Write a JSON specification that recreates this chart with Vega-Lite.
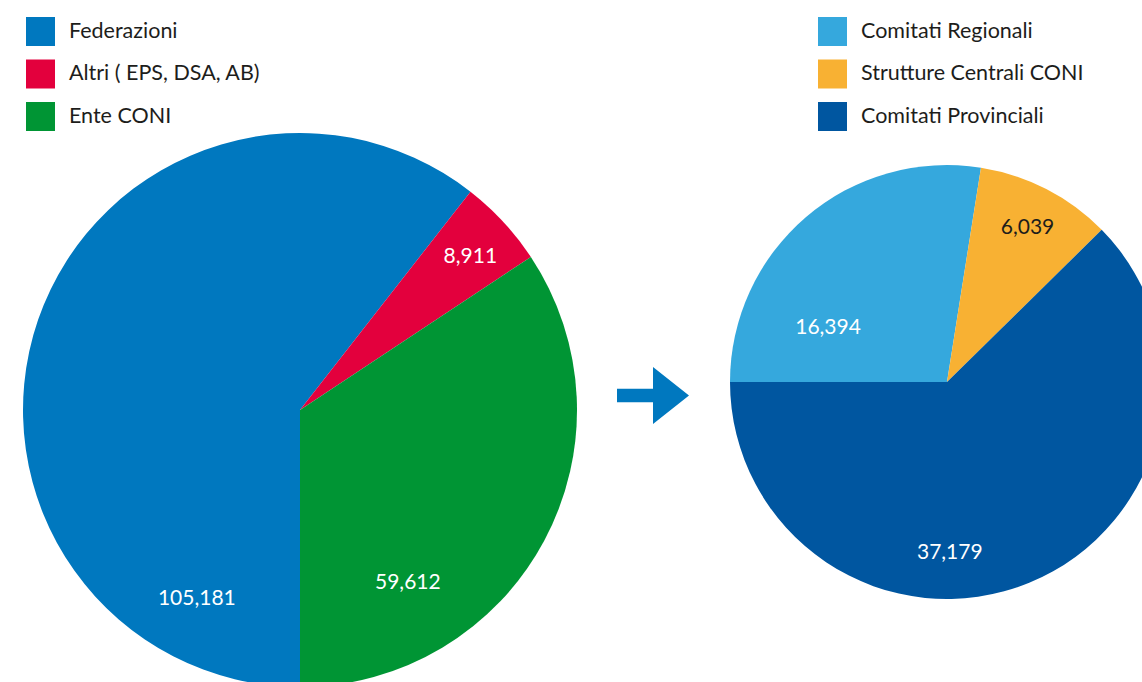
{
  "$schema": "https://vega.github.io/schema/vega-lite/v6.json",
  "padding": 0,
  "spacing": 0,
  "bounds": "flush",
  "config": {
    "view": {"stroke": null},
    "font": "Lato",
    "text": {"dy": 2},
    "legend": {
      "symbolType": "square",
      "symbolSize": 841,
      "symbolStrokeWidth": 0,
      "symbolOpacity": 1,
      "labelFont": "Lato",
      "labelFontSize": 21.5,
      "labelColor": "#1d1d1b",
      "labelOffset": 14,
      "labelLimit": 400,
      "rowPadding": 13.5,
      "padding": 0
    }
  },
  "resolve": {
    "scale": {"color": "independent", "theta": "independent"},
    "legend": {"color": "independent"}
  },
  "datasets": {
    "left": [
      {"cat": "Federazioni", "value": 105181, "n": 1},
      {"cat": "Altri ( EPS, DSA, AB)", "value": 8911, "n": 2},
      {"cat": "Ente CONI", "value": 59612, "n": 3}
    ],
    "right": [
      {"cat": "Comitati Regionali", "value": 16394, "n": 1},
      {"cat": "Strutture Centrali CONI", "value": 6039, "n": 2},
      {"cat": "Comitati Provinciali", "value": 37179, "n": 3}
    ],
    "arrow": [{"item": "arrow"}]
  },
  "hconcat": [
    {
      "width": 600,
      "height": 682,
      "data": {"name": "left"},
      "encoding": {
        "theta": {"field": "value", "type": "quantitative", "stack": true, "scale": {"range": [3.141592653589793, 9.42477796076938]}},
        "order": {"field": "n", "type": "quantitative"}
      },
      "layer": [
        {
          "mark": {"type": "arc", "outerRadius": 277, "yOffset": 69, "clip": true},
          "encoding": {
            "color": {
              "field": "cat", "type": "nominal",
              "scale": {"domain": ["Federazioni", "Altri ( EPS, DSA, AB)", "Ente CONI"], "range": ["#0078BF", "#E3003D", "#009534"]},
              "legend": {"title": null, "orient": "none", "legendX": 26, "legendY": 17}
            }
          }
        },
        {
          "mark": {"type": "text", "radius": 213.5, "thetaOffset": -1.398, "yOffset": 69, "dy": 2, "fontSize": 21, "font": "Lato", "color": "white"},
          "encoding": {
            "detail": {"field": "cat", "type": "nominal"},
            "text": {"condition": {"test": "datum.n === 1", "field": "value", "type": "quantitative", "format": ","}, "value": ""}
          }
        },
        {
          "mark": {"type": "text", "radius": 230, "thetaOffset": 0.01, "yOffset": 69, "dy": 2, "fontSize": 21, "font": "Lato", "color": "white"},
          "encoding": {
            "detail": {"field": "cat", "type": "nominal"},
            "text": {"condition": {"test": "datum.n === 2", "field": "value", "type": "quantitative", "format": ","}, "value": ""}
          }
        },
        {
          "mark": {"type": "text", "radius": 202, "thetaOffset": 0.515, "yOffset": 69, "dy": 2, "fontSize": 21, "font": "Lato", "color": "white"},
          "encoding": {
            "detail": {"field": "cat", "type": "nominal"},
            "text": {"condition": {"test": "datum.n === 3", "field": "value", "type": "quantitative", "format": ","}, "value": ""}
          }
        }
      ]
    },
    {
      "width": 106,
      "height": 682,
      "data": {"name": "arrow"},
      "mark": {
        "type": "point",
        "shape": "M-1,-0.19L0,-0.19L0,-0.79L1,0L0,0.79L0,0.19L-1,0.19Z",
        "size": 5184,
        "filled": true,
        "color": "#0078BF",
        "opacity": 1,
        "strokeWidth": 0,
        "yOffset": 54.5
      },
      "encoding": {}
    },
    {
      "width": 436,
      "height": 682,
      "data": {"name": "right"},
      "encoding": {
        "theta": {"field": "value", "type": "quantitative", "stack": true, "scale": {"range": [4.71238898038469, 10.995574287564276]}},
        "order": {"field": "n", "type": "quantitative"}
      },
      "layer": [
        {
          "mark": {"type": "arc", "outerRadius": 217, "xOffset": 23, "yOffset": 41, "clip": true},
          "encoding": {
            "color": {
              "field": "cat", "type": "nominal",
              "scale": {"domain": ["Comitati Regionali", "Strutture Centrali CONI", "Comitati Provinciali"], "range": ["#35A8DD", "#F8B133", "#0056A0"]},
              "legend": {"title": null, "orient": "none", "legendX": 112, "legendY": 17}
            }
          }
        },
        {
          "mark": {"type": "text", "radius": 131.5, "thetaOffset": -0.424, "xOffset": 23, "yOffset": 41, "dy": 2, "fontSize": 21, "font": "Lato", "color": "white"},
          "encoding": {
            "detail": {"field": "cat", "type": "nominal"},
            "text": {"condition": {"test": "datum.n === 1", "field": "value", "type": "quantitative", "format": ","}, "value": ""}
          }
        },
        {
          "mark": {"type": "text", "radius": 176, "thetaOffset": 0, "xOffset": 23, "yOffset": 41, "dy": 2, "fontSize": 21, "font": "Lato", "color": "#1d1d1b"},
          "encoding": {
            "detail": {"field": "cat", "type": "nominal"},
            "text": {"condition": {"test": "datum.n === 2", "field": "value", "type": "quantitative", "format": ","}, "value": ""}
          }
        },
        {
          "mark": {"type": "text", "radius": 169, "thetaOffset": 0.372, "xOffset": 23, "yOffset": 41, "dy": 2, "fontSize": 21, "font": "Lato", "color": "white"},
          "encoding": {
            "detail": {"field": "cat", "type": "nominal"},
            "text": {"condition": {"test": "datum.n === 3", "field": "value", "type": "quantitative", "format": ","}, "value": ""}
          }
        }
      ]
    }
  ]
}
